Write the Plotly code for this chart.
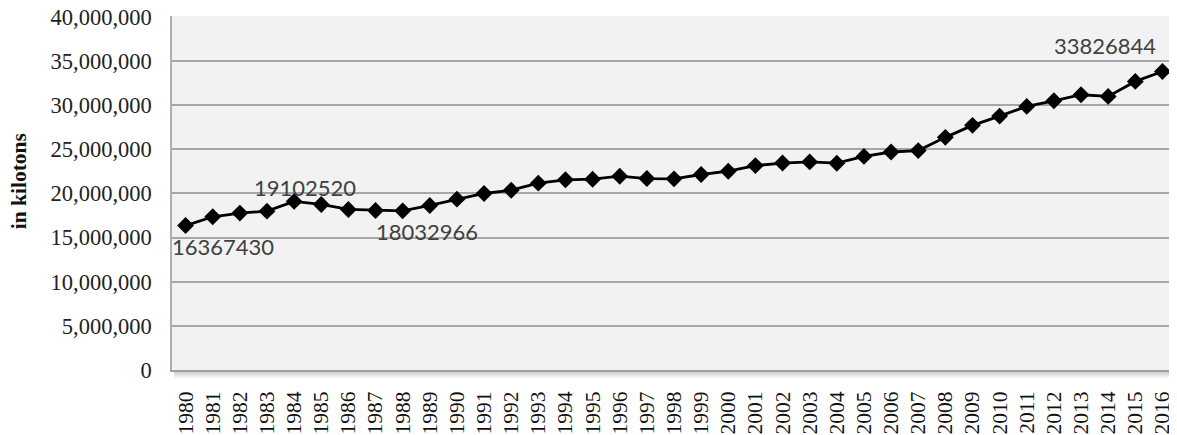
import plotly.graph_objects as go

years = list(range(1980, 2017))
emissions = [16367430, 17360000, 17780000, 18000000, 19102520, 18760000, 18190000,
             18080000, 18032966, 18640000, 19360000, 20000000, 20370000, 21170000,
             21550000, 21620000, 21960000, 21690000, 21660000, 22150000, 22520000,
             23160000, 23450000, 23580000, 23430000, 24200000, 24700000, 24860000,
             26360000, 27720000, 28770000, 29870000, 30500000, 31190000, 31000000,
             32700000, 33826844]
label_years = [1980, 1984, 1988, 2016]
label_shift = {1980: (37, -21), 1984: (11, 14), 1988: (24, -21), 2016: (-57, 26)}
y_ticks = [0, 5000000, 10000000, 15000000, 20000000, 25000000, 30000000, 35000000, 40000000]
y_title = "in kilotons"

fig = go.Figure()
fig.add_trace(go.Scatter(
    x=years, y=emissions, mode="lines+markers",
    line=dict(color="black", width=2.8),
    marker=dict(symbol="diamond", size=13, color="black"),
    showlegend=False, cliponaxis=False,
))

annotations = []
for yr in label_years:
    v = emissions[years.index(yr)]
    dx, dy = label_shift[yr]
    annotations.append(dict(x=yr, y=v, xref="x", yref="y", text=str(v), showarrow=False,
                            xshift=dx, yshift=dy, xanchor="center", yanchor="middle",
                            font=dict(family="Lato", size=22, color="#404040")))
annotations.append(dict(x=0, y=0.533, xref="paper", yref="paper", text="<b>%s</b>" % y_title,
                        textangle=-90, showarrow=False, xanchor="center", yanchor="middle",
                        xshift=-153,
                        font=dict(family="Liberation Serif", size=21.5, color="#111")))

shapes = []
# soft shadow under the plot area
for k in range(1, 9):
    shapes.append(dict(type="rect", xref="paper", yref="paper",
                       x0=0.002, x1=1, y0=-(k - 1) / 354, y1=-k / 354,
                       line=dict(width=0),
                       fillcolor="rgba(0,0,0,%.3f)" % (0.28 * (1 - k / 9)),
                       layer="below"))

# page body adds an 8px margin; compensate so the plot lands where the reference has it.
# The range top sits a hair above 40M so plotly keeps the top grid line.
fig.update_layout(
    width=1169, height=427,
    margin=dict(l=164, r=1, t=8, b=65, autoexpand=False),
    plot_bgcolor="#f2f2f2", paper_bgcolor="white",
    font=dict(family="Liberation Serif", size=22, color="#222"),
    annotations=annotations, shapes=shapes,
    xaxis=dict(range=[1979.5, 2016.5], tickmode="array", tickvals=years,
               ticktext=[str(y) for y in years], tickangle=-90,
               showgrid=False, showline=True, linecolor="#a0a0a0", linewidth=2,
               zeroline=False, ticks="", ticklabelstandoff=11, automargin=False,
               ticklabeloverflow="allow",
               tickfont=dict(family="Liberation Serif", size=21.5, color="#111")),
    yaxis=dict(range=[0, 40110000], tickmode="array", tickvals=y_ticks,
               tickformat=",",
               showgrid=True, gridcolor="#a6a6a6", gridwidth=1.5,
               showline=True, mirror=True, linecolor="#b0b0b0", linewidth=1.5,
               zeroline=False, ticks="", ticklabelstandoff=14, automargin=False,
               ticklabeloverflow="allow",
               tickfont=dict(family="Liberation Serif", size=22.5, color="#222")),
)

fig.write_html("out.html")
